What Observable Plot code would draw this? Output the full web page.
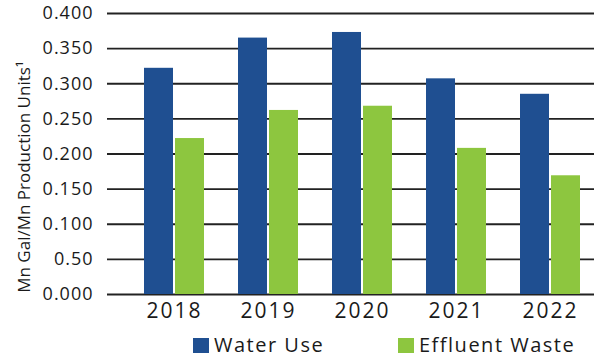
<!DOCTYPE html>
<html>
<head>
<meta charset="utf-8">
<script src="https://cdn.jsdelivr.net/npm/d3@7"></script>
<script src="https://cdn.jsdelivr.net/npm/@observablehq/plot@0.6"></script>
<style>
  html, body { margin: 0; padding: 0; background: #fff; }
  body { width: 594px; height: 356px; overflow: hidden; font-family: "Open Sans", sans-serif; }
  #chart svg { display: block; }
  #chart g[aria-label="y-axis tick label"] text { letter-spacing: 1px; }
  #chart g[aria-label="x-axis tick label"] text { letter-spacing: 2px; }
  #legend { position: relative; height: 24px; width: 594px; }
  #legend .sw { position: absolute; top: 6px; width: 16px; height: 15px; }
  #legend .lb { position: absolute; top: 1.5px; font-size: 20px; line-height: 22px; letter-spacing: 1.5px; color: #1a1a1a; white-space: nowrap; }
</style>
</head>
<body>
<div id="chart"></div>
<div id="legend"></div>
<script>
const years = ["2018", "2019", "2020", "2021", "2022"];
const waterUse = [0.322, 0.365, 0.373, 0.307, 0.285];
const effluentWaste = [0.222, 0.262, 0.268, 0.208, 0.169];
const yTickValues = [0, 0.05, 0.1, 0.15, 0.2, 0.25, 0.3, 0.35, 0.4];
const yTickLabels = ["0.000", "0.50", "0.100", "0.150", "0.200", "0.250", "0.300", "0.350", "0.400"];
const seriesNames = ["Water Use", "Effluent Waste"];
const seriesColors = ["#1F4F91", "#8DC63F"];
const yLabel = "Mn Gal/Mn Production Units\u00B9";

const waterRows = years.map((year, i) => ({year, value: waterUse[i]}));
const effluentRows = years.map((year, i) => ({year, value: effluentWaste[i]}));

const plot = Plot.plot({
  width: 594,
  height: 332,
  marginLeft: 107,
  marginRight: 0,
  marginTop: 13,
  marginBottom: 38,
  style: {fontFamily: "'Open Sans', sans-serif", color: "#1a1a1a", background: "#fff", overflow: "visible"},
  x: {domain: years, range: [124.6, 598.4], paddingInner: 0.367, paddingOuter: 0.1835},
  y: {domain: [0, 0.4], range: [294, 13]},
  marks: [
    Plot.ruleY(yTickValues, {stroke: "#222", strokeWidth: 1.8}),
    Plot.barY(waterRows, {x: "year", y: "value", fill: seriesColors[0], insetRight: 31}),
    Plot.barY(effluentRows, {x: "year", y: "value", fill: seriesColors[1], insetLeft: 31}),
    Plot.axisY({ticks: yTickValues, tickFormat: (d) => yTickLabels[yTickValues.indexOf(d)], tickSize: 0, tickPadding: 14, fontSize: 18, label: null}),
    Plot.axisX({tickSize: 0, tickPadding: 9, fontSize: 21, label: null}),
    Plot.text([yLabel], {frameAnchor: "left", textAnchor: "middle", lineAnchor: "middle", rotate: -90, dx: -83, dy: 23, fontSize: 17, fill: "#1a1a1a"})
  ]
});
document.getElementById("chart").appendChild(plot);

const legend = document.getElementById("legend");
const swatchLeft = [193, 398];
const labelLeft = [214, 419];
seriesNames.forEach((name, i) => {
  const sw = document.createElement("div");
  sw.className = "sw";
  sw.style.left = swatchLeft[i] + "px";
  sw.style.background = seriesColors[i];
  legend.appendChild(sw);
  const lb = document.createElement("div");
  lb.className = "lb";
  lb.style.left = labelLeft[i] + "px";
  lb.textContent = name;
  legend.appendChild(lb);
});
</script>
</body>
</html>
